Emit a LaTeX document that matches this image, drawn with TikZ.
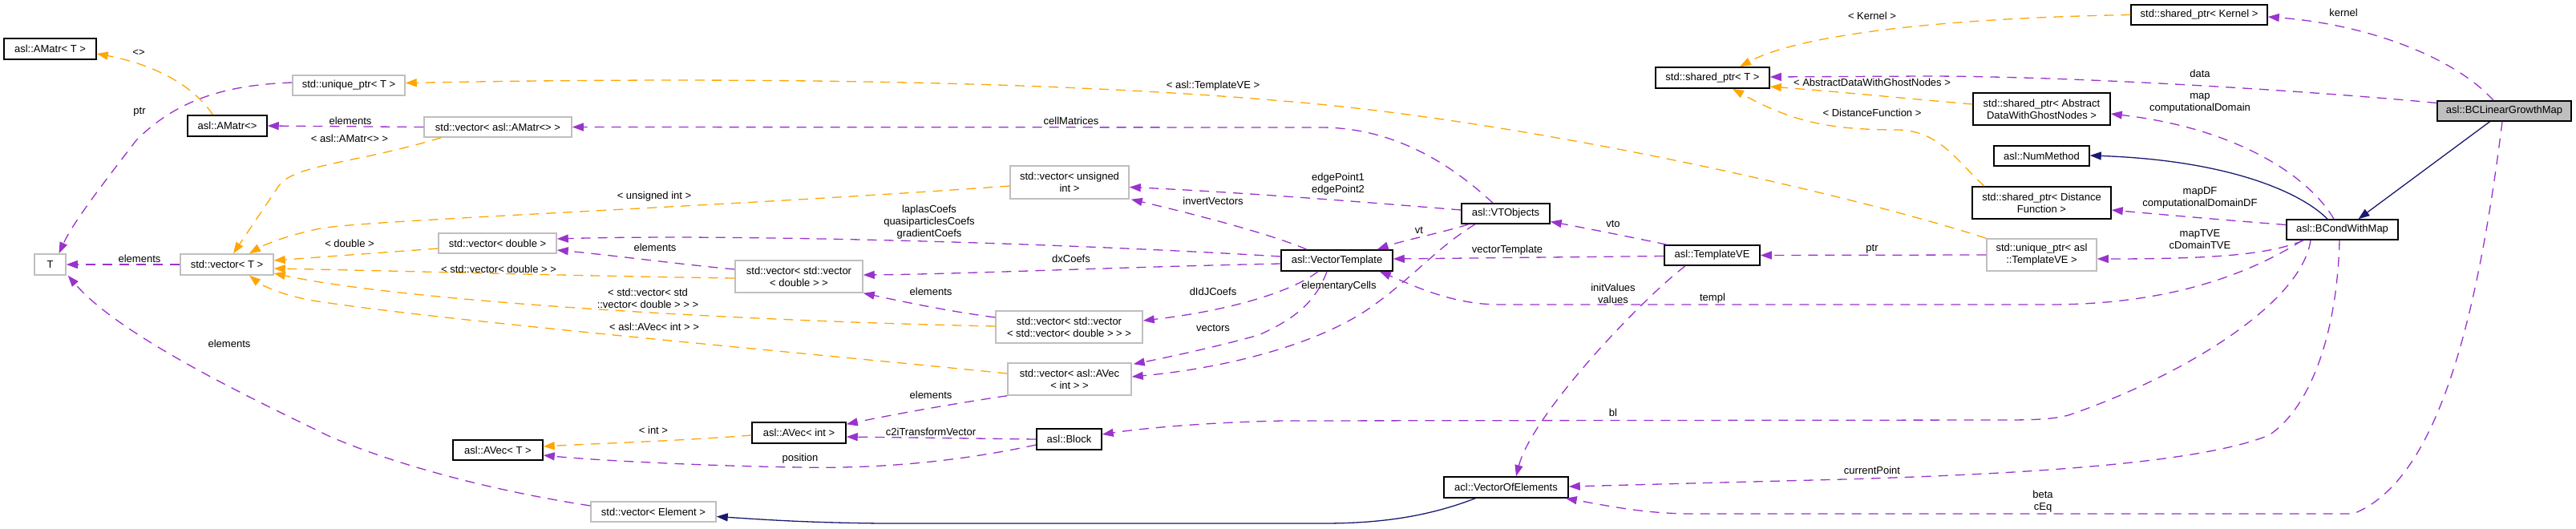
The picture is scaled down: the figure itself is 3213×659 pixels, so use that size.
\documentclass[tikz,border=0pt]{standalone}
\usepackage{fontspec}
\setmainfont{Liberation Sans}
\usetikzlibrary{arrows.meta,calc}
\definecolor{purp}{RGB}{154,50,205}
\definecolor{orng}{RGB}{255,165,0}
\definecolor{navyb}{RGB}{25,25,112}
\definecolor{lgray}{RGB}{191,191,191}
\newcommand\dfont{\fontsize{13}{15}\selectfont}
\tikzset{
  cls/.style={draw=black, line width=1.5pt, fill=white, inner sep=0pt, font=\dfont, align=center},
  ext/.style={cls, draw=lgray},
  sel/.style={cls, fill=lgray},
  usearrow/.style={draw=purp, line width=1.3pt, dash pattern=on 12pt off 9pt, -{Triangle[length=14pt,width=10pt]}},
  tmplarrow/.style={usearrow, draw=orng},
  inharrow/.style={draw=navyb, line width=1.3pt, -{Triangle[length=14pt,width=10pt]}},
  elab/.style={font=\dfont, align=center, inner sep=0pt}
}
\begin{document}
\begin{tikzpicture}[x=1pt,y=-1pt]
\useasboundingbox (0,0) rectangle (3213,659);

% ---------- nodes ----------
\node[cls, minimum width=115pt, minimum height=26pt] (AMatrT) at (62.5,61) {asl::AMatr< T >};
\node[ext, minimum width=140pt, minimum height=25pt] (uptrT) at (435,106.5) {std::unique\_ptr< T >};
\node[cls, minimum width=99pt, minimum height=26pt] (AMatr) at (283.5,157) {asl::AMatr<>};
\node[ext, minimum width=184pt, minimum height=25pt] (vAMatr) at (621,158.5) {std::vector< asl::AMatr<> >};
\node[ext, minimum width=147pt, minimum height=25pt] (vdouble) at (620.5,303.5) {std::vector< double >};
\node[ext, minimum width=39pt, minimum height=26pt] (T) at (62.5,330) {T};
\node[ext, minimum width=116pt, minimum height=26pt] (vT) at (283,330) {std::vector< T >};
\node[ext, minimum width=148pt, minimum height=41pt] (vui) at (1334,227.5) {std::vector< unsigned\\int >};
\node[ext, minimum width=159pt, minimum height=40pt] (vvd) at (996.5,345) {std::vector< std::vector\\< double > >};
\node[ext, minimum width=183pt, minimum height=40pt] (vvvd) at (1333.5,408) {std::vector< std::vector\\< std::vector< double > > >};
\node[ext, minimum width=154pt, minimum height=40pt] (vAVec) at (1334,473) {std::vector< asl::AVec\\< int > >};
\node[cls, minimum width=117pt, minimum height=26pt] (AVecint) at (996.5,540) {asl::AVec< int >};
\node[cls, minimum width=112pt, minimum height=25pt] (AVecT) at (621,561.5) {asl::AVec< T >};
\node[cls, minimum width=81pt, minimum height=26pt] (Block) at (1333.5,548) {asl::Block};
\node[ext, minimum width=156pt, minimum height=25pt] (vElem) at (815,638.5) {std::vector< Element >};
\node[cls, minimum width=142pt, minimum height=26pt] (spT) at (2136,97) {std::shared\_ptr< T >};
\node[cls, minimum width=110pt, minimum height=25pt] (VTO) at (1878,266.5) {asl::VTObjects};
\node[cls, minimum width=139pt, minimum height=26pt] (VT) at (1667.5,325) {asl::VectorTemplate};
\node[cls, minimum width=119pt, minimum height=25pt] (TVE) at (2135.5,318.5) {asl::TemplateVE};
\node[cls, minimum width=155pt, minimum height=26pt] (VOE) at (1878.5,608) {acl::VectorOfElements};
\node[cls, minimum width=170pt, minimum height=25pt] (spK) at (2743,18.5) {std::shared\_ptr< Kernel >};
\node[cls, minimum width=171pt, minimum height=40pt] (spA) at (2546.5,136) {std::shared\_ptr< Abstract\\DataWithGhostNodes >};
\node[sel, minimum width=167pt, minimum height=25pt] (BCLGM) at (3123.5,138.5) {asl::BCLinearGrowthMap};
\node[cls, minimum width=119pt, minimum height=25pt] (NumM) at (2546.5,194.5) {asl::NumMethod};
\node[cls, minimum width=173pt, minimum height=40pt] (spDF) at (2546.5,253) {std::shared\_ptr< Distance\\Function >};
\node[cls, minimum width=139pt, minimum height=25pt] (BCWM) at (2921.5,286.5) {asl::BCondWithMap};
\node[ext, minimum width=137pt, minimum height=40pt] (uTVE) at (2546.5,318) {std::unique\_ptr< asl\\::TemplateVE >};

% ---------- template instance edges (orange) ----------
\draw[tmplarrow] ($(AMatr.north)+(-18,0)$) .. controls (240,105) and (190,80) .. ($(AMatrT.east)+(0,6)$);
\draw[tmplarrow] (spK.west) .. controls (2450,22) and (2250,40) .. ($(spT.north)+(34,0)$);
\draw[tmplarrow] ($(spA.west)+(0,-6)$) .. controls (2400,125) and (2300,115) .. ($(spT.east)+(0,11)$);
\draw[tmplarrow] ($(spDF.north)+(-71.5,0)$) .. controls (2440,200) and (2420,165) .. (2370,162) .. controls (2290,162) and (2240,155) .. ($(spT.south)+(25,0)$);
\draw[tmplarrow] (uTVE.north west) .. controls (2300,240) and (1900,150) .. (1600,126) .. controls (1300,100) and (900,96) .. ($(uptrT.east)+(0,-3)$);
\draw[tmplarrow] ($(vAMatr.south west)+(22,0)$) .. controls (440,205) and (365,205) .. (347,233) -- ($(vT.north)+(8,0)$);
\draw[tmplarrow] ($(vui.west)+(0,4.5)$) .. controls (900,258) and (450,275) .. (400,285) .. controls (360,293) and (330,305) .. ($(vT.north)+(28,0)$);
\draw[tmplarrow] ($(vdouble.west)+(0,6.5)$) -- ($(vT.east)+(0,-5)$);
\draw[tmplarrow] ($(vvd.west)+(0,2)$) .. controls (750,345) and (500,338) .. ($(vT.east)+(0,5)$);
\draw[tmplarrow] ($(vvvd.west)+(0,-1)$) .. controls (900,400) and (500,375) .. ($(vT.east)+(0,11)$);
\draw[tmplarrow] ($(vAVec.west)+(0,-7)$) .. controls (1000,440) and (550,400) .. (390,375) .. controls (350,368) and (325,355) .. ($(vT.south)+(28,0)$);
\draw[tmplarrow] ($(AVecint.west)+(0,3)$) .. controls (850,550) and (750,553) .. ($(AVecT.east)+(0,-4.5)$);

% ---------- usage edges (purple) ----------
\draw[usearrow] ($(uptrT.west)+(0,-3.5)$) .. controls (280,106) and (220,125) .. (170,175) .. controls (120,240) and (90,280) .. ($(T.north)+(11,0)$);
\draw[usearrow] (vAMatr.west) -- (AMatr.east);
\draw[usearrow] (vT.west) -- (T.east);
\draw[usearrow] ($(vElem.west)+(0,-7.5)$) .. controls (600,610) and (480,575) .. (408,543) .. controls (320,500) and (150,420) .. ($(T.south east)+(2,0)$);
\draw[usearrow] ($(VTO.north)+(-16,0)$) .. controls (1810,205) and (1740,160) .. (1650,159) -- (vAMatr.east);
\draw[usearrow] ($(VTO.west)+(0,-4.5)$) .. controls (1700,252) and (1550,240) .. ($(vui.east)+(0,6)$);
\draw[usearrow] ($(VT.north)+(-37.5,0)$) .. controls (1580,290) and (1480,265) .. ($(vui.south east)+(2,0)$);
\draw[usearrow] ($(VT.west)+(0,-5)$) .. controls (1300,302) and (900,292) .. ($(vdouble.east)+(0,-5.5)$);
\draw[usearrow] ($(VT.west)+(0,4)$) .. controls (1400,333) and (1200,342) .. ($(vvd.east)+(0,-2)$);
\draw[usearrow] ($(vvd.west)+(0,-9)$) .. controls (850,330) and (760,318) .. ($(vdouble.east)+(0,8.5)$);
\draw[usearrow] ($(vvvd.west)+(0,-12)$) .. controls (1180,388) and (1120,375) .. (vvd.south east);
\draw[usearrow] ($(VT.south)+(-23.5,0)$) .. controls (1610,365) and (1530,388) .. ($(vvvd.east)+(0,-8)$);
\draw[usearrow] ($(VT.south)+(-12.5,0)$) .. controls (1640,380) and (1610,400) .. (1570,418) .. controls (1520,432) and (1460,445) .. ($(vAVec.north east)+(2,2)$);
\draw[usearrow] ($(VTO.south)+(-38,0)$) .. controls (1790,310) and (1760,350) .. (1700,390) .. controls (1620,440) and (1500,462) .. ($(vAVec.east)+(0,-3)$);
\draw[usearrow] ($(VTO.south)+(-46,0)$) .. controls (1800,290) and (1750,300) .. ($(VT.north east)+(-20,0)$);
\draw[usearrow] ($(TVE.north west)+(4,0)$) .. controls (2030,295) and (1980,285) .. ($(VTO.east)+(0,10)$);
\draw[usearrow] ($(TVE.west)+(0,1)$) -- ($(VT.east)+(0,-2)$);
\draw[usearrow] (uTVE.west) -- (TVE.east);
\draw[usearrow] ($(BCWM.south)+(-49.5,0)$) .. controls (2800,345) and (2700,380) .. (2556,380) -- (1870,380) .. controls (1810,380) and (1760,355) .. ($(VT.south east)+(-17,0)$);
\draw[usearrow] ($(TVE.south)+(-33.5,0)$) .. controls (2040,380) and (1910,520) .. ($(VOE.north)+(12.5,0)$);
\draw[usearrow] ($(BCWM.south)+(-39.5,0)$) .. controls (2870,380) and (2720,470) .. (2580,518) .. controls (2560,523) and (2540,524) .. (2500,524) -- (1600,525) .. controls (1500,527) and (1420,535) .. ($(Block.east)+(0,-6)$);
\draw[usearrow] (Block.west) -- ($(AVecint.east)+(0,5)$);
\draw[usearrow] ($(Block.west)+(0,7)$) .. controls (1200,575) and (1100,585) .. (1000,583) .. controls (900,582) and (750,575) .. ($(AVecT.east)+(0,6.5)$);
\draw[usearrow] (vAVec.south west) .. controls (1180,505) and (1110,518) .. ($(AVecint.north east)+(0,3)$);
\draw[usearrow] ($(BCWM.south)+(-3.5,0)$) .. controls (2915,420) and (2880,510) .. (2830,543) .. controls (2740,580) and (2500,592) .. (2300,598) -- ($(VOE.east)+(0,-1)$);
\draw[usearrow] ($(BCLGM.south)+(-2.5,0)$) .. controls (3090,400) and (3040,600) .. (2935,641) -- (2110,641) .. controls (2050,641) and (2000,630) .. ($(VOE.south east)+(-4,0)$);
\draw[usearrow] ($(BCLGM.north)+(-13.5,0)$) .. controls (3060,70) and (2950,30) .. ($(spK.east)+(0,2.5)$);
\draw[usearrow] ($(BCLGM.west)+(0,-10)$) .. controls (2900,115) and (2600,95) .. (2400,95) -- ($(spT.east)+(0,-1)$);
\draw[usearrow] ($(BCWM.north)+(-10.5,0)$) .. controls (2880,220) and (2790,160) .. ($(spA.east)+(0,6)$);
\draw[usearrow] ($(BCWM.west)+(0,-6)$) .. controls (2780,275) and (2700,268) .. ($(spDF.east)+(0,9)$);
\draw[usearrow] ($(BCWM.south)+(-48,0)$) .. controls (2830,318) and (2760,323) .. ($(uTVE.east)+(0,5)$);

% ---------- inheritance edges (navy) ----------
\draw[inharrow] ($(BCLGM.south)+(-18,0)$) -- ($(BCWM.north)+(20,0)$);
\draw[inharrow] ($(BCWM.north)+(-18.5,0)$) .. controls (2870,240) and (2780,200) .. ($(NumM.east)+(0,-0.5)$);
\draw[inharrow] ($(VOE.south)+(-38.5,0)$) .. controls (1780,645) and (1720,653) .. (1650,653) -- (1100,653) .. controls (1000,652) and (950,648) .. ($(vElem.east)+(0,6)$);

% ---------- edge labels ----------
\node[elab] (l1) at (173,66) {<>};
\node[elab] (l2) at (174,140) {ptr};
\node[elab] (l3) at (437,151) {elements};
\node[elab] (l4) at (436,173) {< asl::AMatr<> >};
\node[elab] (l5) at (816,245) {< unsigned int >};
\node[elab] (l6) at (436,304) {< double >};
\node[elab] (l7) at (174,323) {elements};
\node[elab] (l8) at (622,336) {< std::vector< double > >};
\node[elab] (l9) at (808,372) {< std::vector< std\\::vector< double > > >};
\node[elab] (l10) at (816,408) {< asl::AVec< int > >};
\node[elab] (l11) at (286,429) {elements};
\node[elab] (l12) at (815,537) {< int >};
\node[elab] (l13) at (1513,107) {< asl::TemplateVE >};
\node[elab] (l14) at (1336,151) {cellMatrices};
\node[elab] (l15) at (1513,251) {invertVectors};
\node[elab] (l16) at (1159,277) {laplasCoefs\\quasiparticlesCoefs\\gradientCoefs};
\node[elab] (l17) at (817,309) {elements};
\node[elab] (l18) at (1336,323) {dxCoefs};
\node[elab] (l19) at (1161,364) {elements};
\node[elab] (l20) at (1513,364) {dIdJCoefs};
\node[elab] (l21) at (1513,409) {vectors};
\node[elab] (l22) at (1161,493) {elements};
\node[elab] (l23) at (1161,539) {c2iTransformVector};
\node[elab] (l24) at (998,572) {position};
\node[elab] (l25) at (2335,20) {< Kernel >};
\node[elab] (l26) at (2335,103) {< AbstractDataWithGhostNodes >};
\node[elab] (l27) at (2335,141) {< DistanceFunction >};
\node[elab] (l28) at (1669,229.5) {edgePoint1\\edgePoint2};
\node[elab] (l29) at (1770,287) {vt};
\node[elab] (l30) at (2012,279) {vto};
\node[elab] (l31) at (1880,312) {vectorTemplate};
\node[elab] (l32) at (2335,311) {ptr};
\node[elab] (l33) at (1670,357) {elementaryCells};
\node[elab] (l34) at (2012,366.5) {initValues\\values};
\node[elab] (l35) at (2136,372) {templ};
\node[elab] (l36) at (2012,515) {bl};
\node[elab] (l37) at (2335,587) {currentPoint};
\node[elab] (l38) at (2923,16) {kernel};
\node[elab] (l39) at (2744,92) {data};
\node[elab] (l40) at (2744,128.5) {map\\computationalDomain};
\node[elab] (l41) at (2744,246.5) {mapDF\\computationalDomainDF};
\node[elab] (l42) at (2744,299) {mapTVE\\cDomainTVE};
\node[elab] (l43) at (2548,625.5) {beta\\cEq};
\end{tikzpicture}
\end{document}
